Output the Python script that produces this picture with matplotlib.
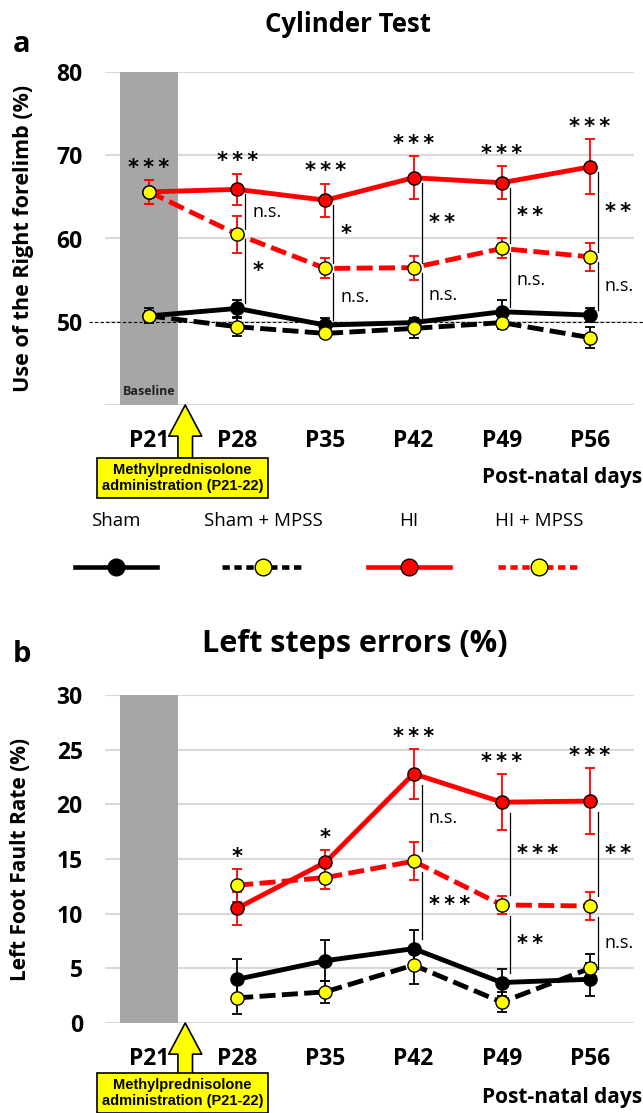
import numpy as np
import matplotlib
matplotlib.use("Agg")
import matplotlib.pyplot as plt

plt.rcParams['font.family'] = ['Open Sans', 'DejaVu Sans']

days = ['P21', 'P28', 'P35', 'P42', 'P49', 'P56']

# panel a: cylinder test, use of the right forelimb (%)
cyl_sham = [50.7, 51.6, 49.6, 49.9, 51.2, 50.8]
cyl_sham_err = [0.9, 1.0, 0.8, 0.5, 1.4, 0.8]
cyl_sham_mpss = [50.7, 49.4, 48.6, 49.2, 49.9, 48.1]
cyl_sham_mpss_err = [0.6, 1.1, 0.5, 1.2, 0.8, 1.3]
cyl_hi = [65.6, 65.9, 64.6, 67.3, 66.7, 68.6]
cyl_hi_err = [1.4, 1.9, 2.0, 2.6, 2.0, 3.3]
cyl_hi_mpss = [65.6, 60.5, 56.4, 56.5, 58.8, 57.8]
cyl_hi_mpss_err = [1.4, 2.2, 1.2, 1.45, 1.2, 1.65]
cyl_top = ['***', '***', '***', '***', '***', '***']
cyl_hi_vs_mpss = [None, 'n.s.', '*', '**', '**', '**']
cyl_mpss_vs_sham = [None, '*', 'n.s.', 'n.s.', 'n.s.', 'n.s.']

# panel b: left steps errors (%), no baseline value
step_days = days[1:]
step_sham = [4.0, 5.7, 6.8, 3.7, 4.0]
step_sham_err = [1.85, 1.9, 1.7, 1.2, 1.5]
step_sham_mpss = [2.3, 2.85, 5.3, 1.9, 5.0]
step_sham_mpss_err = [1.5, 1.0, 1.75, 0.9, 1.3]
step_hi = [10.5, 14.7, 22.8, 20.2, 20.3]
step_hi_err = [1.5, 1.1, 2.3, 2.55, 3.0]
step_hi_mpss = [12.6, 13.3, 14.8, 10.8, 10.7]
step_hi_mpss_err = [1.5, 1.0, 1.75, 0.85, 1.3]
step_top = ['*', '*', '***', '***', '***']
step_hi_vs_mpss = [None, None, 'n.s.', '***', '**']
step_mpss_vs_sham = [None, None, '***', '**', 'n.s.']

groups = ['Sham', 'Sham + MPSS', 'HI', 'HI + MPSS']

RED = '#ff0000'
YEL = '#ffff00'
GREY = '#a6a6a6'
# line colour, dashed?, marker face, error bar colour
styles = [('black', False, 'black', 'black'),
          ('black', True, YEL, 'black'),
          (RED, False, RED, RED),
          (RED, True, YEL, RED)]

W, H = 643, 1113


def fig_rect(left, top, right, bottom):
    return [left / W, 1 - bottom / H, (right - left) / W, (bottom - top) / H]


def stars(s):
    # the asterisks are spread out a little in the original
    return '\u2009'.join(s)


def draw_series(ax, x, y, err, style):
    color, dashed, mfc, ecolor = style
    ax.errorbar(x, y, yerr=err, fmt='none', ecolor=ecolor, elinewidth=1.3,
                capsize=3.5, capthick=1.3, zorder=3)
    kw = dict(dashes=(3.3, 1.3)) if dashed else {}
    ax.plot(x, y, color=color, lw=3.5, marker='o', ms=9.5, mfc=mfc,
            mec='black', mew=1, zorder=4, **kw)


def style_axes(ax, ylim, yticks, ylabels):
    ax.set_xlim(-0.5, 5.5)
    ax.set_ylim(*ylim)
    ax.set_xticks(np.arange(len(days)))
    ax.set_xticklabels(days)
    ax.set_yticks(yticks)
    ax.set_yticklabels(ylabels)
    for s in ax.spines.values():
        s.set_visible(False)
    ax.tick_params(axis='both', length=0, labelsize=16.5)
    ax.tick_params(axis='x', pad=17)
    ax.tick_params(axis='y', pad=16)
    for lbl in ax.get_xticklabels() + ax.get_yticklabels():
        lbl.set_fontweight('bold')
    ax.grid(axis='y', color='#d9d9d9', lw=1.5, zorder=0)
    ax.set_axisbelow(True)
    ax.axvspan(-0.33, 0.33, color=GREY, lw=0, zorder=1)


def sig_text(ax, x, y, s, ha):
    if '*' in s:
        ax.text(x, y, stars(s), ha=ha, va='center', fontsize=15,
                fontweight='bold', family=['DejaVu Sans'])
    else:
        ax.text(x, y, s, ha=ha, va='center', fontsize=13)


def draw_sig(ax, x, top_lbl, lbl1, lbl2, hi, hi_err, mp, mp_err, sham,
             star_gap, pad1, pad2):
    for i, xi in enumerate(x):
        ytop = max(hi[i] + hi_err[i], mp[i] + mp_err[i])
        sig_text(ax, xi, ytop + star_gap, top_lbl[i], 'center')
        if lbl1[i] is None:
            continue
        xl = xi + 0.09
        y0, y1 = hi[i] - pad1, mp[i] + pad2
        ax.plot([xl, xl], [y0, y1], color='black', lw=0.9, zorder=5)
        sig_text(ax, xl + 0.08, (y0 + y1) / 2, lbl1[i], 'left')
        y0, y1 = mp[i] - pad1, sham[i] + pad2
        ax.plot([xl, xl], [y0, y1], color='black', lw=0.9, zorder=5)
        sig_text(ax, xl + 0.08, (y0 + y1) / 2, lbl2[i], 'left')


def draw_arrow_box(ax, ybox_top, ybox_mid):
    ylo = ax.get_ylim()[0]
    ax.annotate('', xy=(0.41, ylo), xytext=(0.41, ybox_top),
                arrowprops=dict(arrowstyle='simple,head_width=1.7,head_length=1.6,tail_width=0.75',
                                fc=YEL, ec='black', lw=1.2, shrinkA=0, shrinkB=0,
                                mutation_scale=14),
                annotation_clip=False, zorder=6)
    ax.text(0.38, ybox_mid, 'Methylprednisolone\nadministration (P21-22)',
            ha='center', va='center', fontsize=10.5, fontweight='bold',
            family=['Liberation Sans', 'DejaVu Sans'], linespacing=1.15,
            zorder=7, clip_on=False,
            bbox=dict(boxstyle='square,pad=0.35', fc=YEL, ec='black', lw=1.2))


fig = plt.figure(figsize=(W / 100, H / 100), dpi=100)

# ---- panel a
axA = fig.add_axes(fig_rect(105, 72, 634, 405))
style_axes(axA, (40, 80), [40, 50, 60, 70, 80], ['', '50', '60', '70', '80'])
xa = np.arange(len(days))
for y, e, st in zip([cyl_sham, cyl_sham_mpss, cyl_hi, cyl_hi_mpss],
                    [cyl_sham_err, cyl_sham_mpss_err, cyl_hi_err, cyl_hi_mpss_err],
                    styles):
    draw_series(axA, xa, y, e, st)
axA.axhline(50, xmin=-0.03, xmax=1.02, color='black', lw=0.8, ls=(0, (3, 2)),
            clip_on=False, zorder=2)
draw_sig(axA, xa, cyl_top, cyl_hi_vs_mpss, cyl_mpss_vs_sham, cyl_hi, cyl_hi_err,
         cyl_hi_mpss, cyl_hi_mpss_err, cyl_sham, 1.5, 0.6, 0.6)
axA.text(0, 41.6, 'Baseline', ha='center', va='center', fontsize=9,
         fontweight='bold', color='#222222', zorder=2)
axA.set_ylabel('Use of the Right forelimb (%)', fontsize=15.5, fontweight='bold')
axA.yaxis.set_label_coords(-0.135, 0.5)
draw_arrow_box(axA, 33.6, 31.2)
fig.text(642 / W, 1 - 478 / H, 'Post-natal days', ha='right', va='center',
         fontsize=15, fontweight='bold')
fig.text(348 / W, 1 - 24 / H, 'Cylinder Test', ha='center', va='center',
         fontsize=18.5, fontweight='bold')
fig.text(22 / W, 1 - 45 / H, 'a', ha='center', va='center', fontsize=21,
         fontweight='bold')

# ---- legend between the panels
axL = fig.add_axes(fig_rect(0, 500, W, 590))
axL.set_xlim(0, W)
axL.set_ylim(590, 500)
axL.axis('off')
for name, st, xc in zip(groups, styles, [116, 263, 409, 539]):
    color, dashed, mfc, _ = st
    kw = dict(dashes=(1.6, 1.0)) if dashed else {}
    axL.plot([xc - 41, xc + 41], [567, 567], color=color, lw=3.3, **kw)
    axL.plot([xc], [567], marker='o', ms=12, mfc=mfc, mec='black', mew=1)
    axL.text(xc, 521, name, ha='center', va='center', fontsize=13.5)

# ---- panel b
axB = fig.add_axes(fig_rect(105, 695, 634, 1023))
style_axes(axB, (0, 30), [0, 5, 10, 15, 20, 25, 30],
           ['0', '5', '10', '15', '20', '25', '30'])
xb = np.arange(1, len(days))
for y, e, st in zip([step_sham, step_sham_mpss, step_hi, step_hi_mpss],
                    [step_sham_err, step_sham_mpss_err, step_hi_err, step_hi_mpss_err],
                    styles):
    draw_series(axB, xb, y, e, st)
draw_sig(axB, xb, step_top, step_hi_vs_mpss, step_mpss_vs_sham, step_hi,
         step_hi_err, step_hi_mpss, step_hi_mpss_err, step_sham, 1.1, 1.0, 0.9)
axB.set_ylabel('Left Foot Fault Rate (%)', fontsize=15, fontweight='bold')
axB.yaxis.set_label_coords(-0.14, 0.5)
draw_arrow_box(axB, -4.9, -6.4)
fig.text(642 / W, 1 - 1097 / H, 'Post-natal days', ha='right', va='center',
         fontsize=15, fontweight='bold')
fig.text(355 / W, 1 - 644 / H, 'Left steps errors (%)', ha='center',
         va='center', fontsize=22, fontweight='bold')
fig.text(22 / W, 1 - 655 / H, 'b', ha='center', va='center', fontsize=21,
         fontweight='bold')

fig.savefig('out.png', dpi=100)
